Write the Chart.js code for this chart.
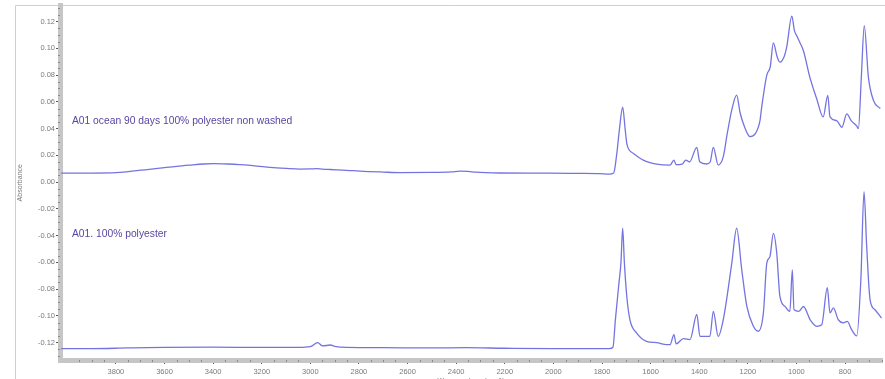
<!DOCTYPE html>
<html>
<head>
<meta charset="utf-8">
<script src="https://cdn.jsdelivr.net/npm/chart.js@4/dist/chart.umd.min.js"></script>
<style>
  html, body { margin: 0; padding: 0; background: #fff; }
  #wrap { width: 885px; height: 379px; }
</style>
</head>
<body>
<div id="wrap"><canvas id="spectra" width="885" height="379"></canvas></div>
<script>
// FTIR spectra, wavenumber (cm-1) vs absorbance
const oceanWavenumbers = [
  4025, 3900, 3800, 3742, 3680, 3619, 3550, 3495, 3440, 3400, 3340, 3290, 3220, 3166, 3100,
  3043, 3000, 2975, 2950, 2919, 2850, 2796, 2700, 2631, 2500, 2420, 2384, 2350, 2320, 2220,
  2100, 2014, 1900, 1809, 1770, 1752, 1740, 1728, 1715, 1705, 1698, 1688, 1672, 1630, 1575,
  1520, 1504, 1495, 1470, 1455, 1440, 1410, 1398, 1370, 1355, 1342, 1322, 1301, 1285, 1266,
  1246, 1232, 1219, 1191, 1170, 1150, 1143, 1122, 1108, 1095, 1080, 1068, 1050, 1040, 1019,
  1008, 999, 985, 971, 945, 917, 890, 871, 862, 835, 813, 793, 775, 752, 745, 733, 721, 704,
  683, 655
];
const oceanAbsorbance = [
  0.0067, 0.0067, 0.0070, 0.0080, 0.0092, 0.0104, 0.0118, 0.0127, 0.0135, 0.0138, 0.0135, 0.0130, 0.0120, 0.0110, 0.0102,
  0.0097, 0.0098, 0.0101, 0.0097, 0.0094, 0.0088, 0.0082, 0.0075, 0.0071, 0.0072, 0.0076, 0.0082, 0.0080, 0.0074, 0.0068,
  0.0067, 0.0067, 0.0065, 0.0063, 0.0060, 0.0068, 0.0200, 0.0400, 0.0560, 0.0400, 0.0290, 0.0240, 0.0216, 0.0164, 0.0134,
  0.0127, 0.0164, 0.0130, 0.0135, 0.0164, 0.0150, 0.0260, 0.0152, 0.0135, 0.0150, 0.0260, 0.0127, 0.0190, 0.0360, 0.0540,
  0.0650, 0.0520, 0.0440, 0.0340, 0.0360, 0.0460, 0.0560, 0.0800, 0.0860, 0.1040, 0.0940, 0.0896, 0.0940, 0.1010, 0.1240,
  0.1130, 0.1095, 0.1040, 0.0980, 0.0785, 0.0625, 0.0487, 0.0648, 0.0487, 0.0460, 0.0410, 0.0510, 0.0460, 0.0420, 0.0400, 0.0785, 0.1170, 0.0785,
  0.0610, 0.0550
];

const refWavenumbers = [
  4025, 3900, 3750, 3600, 3400, 3200, 3050, 3000, 2970, 2950, 2918, 2900, 2850, 2700, 2500,
  2360, 2200, 2000, 1850, 1770, 1755, 1745, 1730, 1722, 1715, 1708, 1698, 1685, 1658, 1617,
  1575, 1534, 1520, 1504, 1495, 1465, 1438, 1410, 1397, 1356, 1342, 1322, 1301, 1266, 1246,
  1225, 1204, 1177, 1157, 1136, 1122, 1109, 1095, 1081, 1068, 1047, 1027, 1017, 1010, 990,
  971, 944, 917, 896, 873, 862, 848, 828, 807, 791, 773, 752, 735, 722, 711, 697, 677, 650
];
const refAbsorbance = [
  -0.1245, -0.1245, -0.1240, -0.1236, -0.1234, -0.1236, -0.1236, -0.1230, -0.1200, -0.1225, -0.1218, -0.1228, -0.1236, -0.1238, -0.1240,
  -0.1238, -0.1242, -0.1245, -0.1245, -0.1245, -0.1235, -0.1030, -0.0750, -0.0600, -0.0345, -0.0600, -0.0855, -0.1030, -0.1127, -0.1190,
  -0.1200, -0.1215, -0.1215, -0.1140, -0.1210, -0.1170, -0.1177, -0.0990, -0.1153, -0.1153, -0.0966, -0.1153, -0.1028, -0.0606, -0.0345,
  -0.0656, -0.0930, -0.1078, -0.1115, -0.0978, -0.0606, -0.0557, -0.0383, -0.0531, -0.0855, -0.0929, -0.0966, -0.0656, -0.0955, -0.0966,
  -0.0930, -0.1028, -0.1078, -0.1066, -0.0790, -0.0978, -0.0941, -0.1028, -0.1052, -0.1041, -0.1103, -0.1150, -0.0730, -0.0072, -0.0482, -0.0880, -0.0954, -0.1016
];

const xTickValues = [3800, 3600, 3400, 3200, 3000, 2800, 2600, 2400, 2200, 2000, 1800, 1600, 1400, 1200, 1000, 800];
const yTickValues = [0.12, 0.10, 0.08, 0.06, 0.04, 0.02, 0.00, -0.02, -0.04, -0.06, -0.08, -0.10, -0.12];

const spectrumLabels = ['A01 ocean 90 days 100% polyester non washed', 'A01. 100% polyester'];
// anchor of each spectrum's caption, in axis units (wavenumber, absorbance)
const labelAnchors = [[3981, 0.0457], [3981, -0.0390]];

const toPoints = (xs, ys) => xs.map((x, i) => ({ x: x, y: ys[i] }));

const lineColor = '#7474e0';
const textColor = '#5a46a2';

// frame, minor ticks and captions
const decorations = {
  id: 'decorations',
  beforeDraw(chart) {
    const ctx = chart.ctx;
    ctx.save();
    ctx.fillStyle = '#ffffff';
    ctx.fillRect(0, 0, chart.width, chart.height);
    ctx.strokeStyle = '#cfcfcf';
    ctx.lineWidth = 1;
    ctx.beginPath();
    ctx.moveTo(15.5, 400);
    ctx.lineTo(15.5, 5.5);
    ctx.lineTo(chart.width, 5.5);
    ctx.stroke();
    ctx.restore();
  },
  afterDraw(chart) {
    const ctx = chart.ctx;
    const xs = chart.scales.x, ys = chart.scales.y;
    const area = chart.chartArea;
    ctx.save();
    ctx.strokeStyle = '#8a8a8a';
    ctx.lineWidth = 1;
    ctx.beginPath();
    for (let w = 650; w <= 4000; w += 50) {
      if (w % 200 === 0) continue;
      const px = Math.round(xs.getPixelForValue(w)) + 0.5;
      ctx.moveTo(px, area.bottom);
      ctx.lineTo(px, area.bottom + 2);
    }
    for (let k = -26; k <= 26; k += 1) {
      if (k % 4 === 0) continue;
      const v = k * 0.005;
      const py = Math.round(ys.getPixelForValue(v)) + 0.5;
      if (py < area.top || py > area.bottom) continue;
      ctx.moveTo(area.left - 2, py);
      ctx.lineTo(area.left, py);
    }
    ctx.stroke();

    ctx.fillStyle = textColor;
    ctx.font = '10.3px "Liberation Sans", Arial, sans-serif';
    ctx.textBaseline = 'middle';
    ctx.textAlign = 'left';
    spectrumLabels.forEach((t, i) => {
      const [w, a] = labelAnchors[i];
      ctx.fillText(t, xs.getPixelForValue(w), ys.getPixelForValue(a));
    });
    ctx.restore();
  }
};

new Chart(document.getElementById('spectra'), {
  type: 'line',
  data: {
    datasets: [
      {
        label: spectrumLabels[0],
        data: toPoints(oceanWavenumbers, oceanAbsorbance),
        borderColor: lineColor,
        borderWidth: 1.3,
        pointRadius: 0,
        cubicInterpolationMode: 'monotone',
        fill: false
      },
      {
        label: spectrumLabels[1],
        data: toPoints(refWavenumbers, refAbsorbance),
        borderColor: lineColor,
        borderWidth: 1.3,
        pointRadius: 0,
        cubicInterpolationMode: 'monotone',
        fill: false
      }
    ]
  },
  options: {
    responsive: false,
    animation: false,
    layout: { padding: { left: 15, right: 3, top: 5, bottom: 0 } },
    plugins: { legend: { display: false }, tooltip: { enabled: false } },
    scales: {
      x: {
        type: 'linear',
        reverse: true,
        min: 648,
        max: 4030,
        afterBuildTicks: s => { s.ticks = xTickValues.map(v => ({ value: v })); },
        afterFit: s => { s.height = 19; },
        ticks: {
          autoSkip: false,
          maxRotation: 0,
          padding: 3,
          color: '#7a7a7a',
          font: { size: 7.5, family: '"Liberation Sans", Arial, sans-serif' },
          callback: v => String(v)
        },
        grid: { display: true, drawOnChartArea: false, drawTicks: true, tickLength: 4, color: '#555' },
        border: { display: true, color: '#c6c6c6', width: 5 },
        title: {
          display: true,
          text: 'Wavenumbers (cm-1)',
          color: '#7a7a7a',
          font: { size: 7, family: '"Liberation Sans", Arial, sans-serif' },
          padding: { top: 0, bottom: -6 }
        }
      },
      y: {
        type: 'linear',
        min: -0.133,
        max: 0.132,
        afterBuildTicks: s => { s.ticks = yTickValues.map(v => ({ value: v })); },
        afterFit: s => { s.width = 45; },
        ticks: {
          autoSkip: false,
          padding: 1,
          color: '#7a7a7a',
          font: { size: 7.5, family: '"Liberation Sans", Arial, sans-serif' },
          callback: v => v.toFixed(2)
        },
        grid: { display: true, drawOnChartArea: false, drawTicks: true, tickLength: 4, color: '#555' },
        border: { display: true, color: '#c6c6c6', width: 5 },
        title: {
          display: true,
          text: 'Absorbance',
          color: '#7a7a7a',
          font: { size: 7, family: '"Liberation Sans", Arial, sans-serif' },
          padding: { top: 1, bottom: 0 }
        }
      }
    }
  },
  plugins: [decorations]
});
</script>
</body>
</html>
